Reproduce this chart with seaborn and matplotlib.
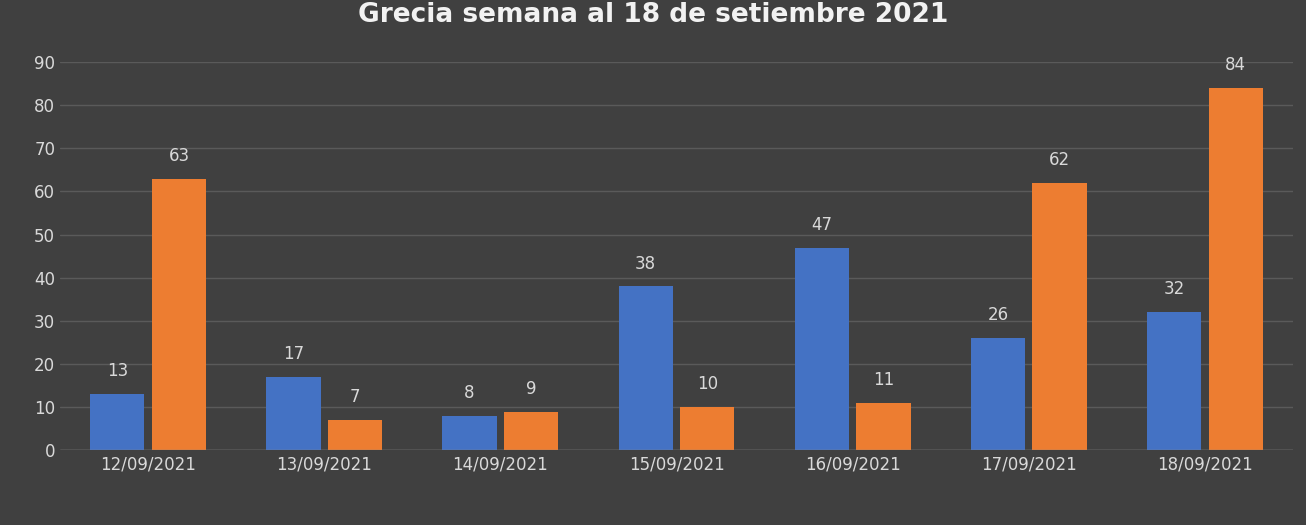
import matplotlib
matplotlib.use("Agg")
import matplotlib.pyplot as plt
import seaborn as sns
import pandas as pd

fechas = ["12/09/2021", "13/09/2021", "14/09/2021", "15/09/2021",
          "16/09/2021", "17/09/2021", "18/09/2021"]
serie_a = [13, 17, 8, 38, 47, 26, 32]
serie_b = [63, 7, 9, 10, 11, 62, 84]

df = pd.DataFrame({
    "fecha": fechas * 2,
    "valor": serie_a + serie_b,
    "serie": ["A"] * 7 + ["B"] * 7,
})

sns.set_style("dark")
fig = plt.figure(figsize=(13.06, 5.25), dpi=100, facecolor="#404040")
ax = fig.add_axes([0.046, 0.142, 0.944, 0.74])
ax.set_facecolor("#404040")

sns.barplot(data=df, x="fecha", y="valor", hue="serie", ax=ax,
            palette=["#4472c4", "#ed7d31"], width=0.7, gap=0.12,
            saturation=1, legend=False, edgecolor="none", linewidth=0)

for c in ax.containers:
    ax.bar_label(c, padding=10, color="#d9d9d9", fontsize=12)

ax.set_ylim(0, 90)
ax.set_yticks(range(0, 91, 10))
ax.yaxis.grid(True, color="#5a5a5a", linewidth=1)
ax.set_axisbelow(True)
ax.tick_params(colors="#d9d9d9", labelsize=12, length=0)
ax.set_xlabel("")
ax.set_ylabel("")
for s in ax.spines.values():
    s.set_visible(False)
ax.axhline(0, color="#8a8a8a", linewidth=1)
fig.text(0.5, 0.972, "Grecia semana al 18 de setiembre 2021", ha="center",
         va="center", color="#f2f2f2", fontsize=19, fontweight="bold")

fig.savefig("out.png", facecolor=fig.get_facecolor())
